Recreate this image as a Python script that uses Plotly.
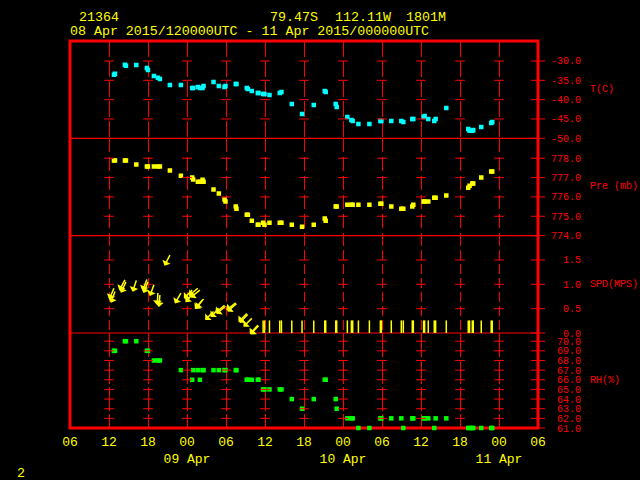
import math
import pandas as pd
import plotly.graph_objects as go
from plotly.subplots import make_subplots

# ---------------- data ----------------
BASE = pd.Timestamp("2015-04-08 06:00")
obs_hours = [6.76, 6.92, 8.45, 8.61, 10.2, 11.83, 11.99, 12.91, 13.52, 13.83,
             15.37, 17.06, 18.8, 18.95, 19.67, 19.98, 20.39, 20.55, 22.08, 22.9,
             23.77, 23.92, 25.5, 25.61, 27.2, 27.36, 27.97, 28.89, 29.0, 29.71,
             29.92, 30.69, 32.27, 32.53, 34.12, 35.7, 37.5, 39.19, 39.34, 40.88,
             41.03, 42.67, 43.29, 43.49, 44.37, 46.06, 47.75, 47.9, 49.43, 50.97,
             51.28, 52.66, 52.82, 54.4, 54.56, 55.12, 56.04, 56.25, 57.89, 61.27,
             61.47, 61.89, 62.04, 63.27, 64.8, 64.96]

temp_c = [-33.54, -33.28, -30.95, -31.21, -31.03, -31.81, -32.33, -33.88, -34.31, -34.66,
          -36.21, -36.21, -36.99, -36.99, -36.73, -36.99, -36.99, -36.47, -35.43, -36.47,
          -36.73, -36.47, -35.95, -35.95, -36.99, -37.24, -37.76, -38.28, -38.28, -38.54,
          -38.54, -38.80, -38.28, -38.02, -41.13, -43.71, -41.38, -37.76, -38.02, -41.13,
          -41.90, -44.49, -45.27, -45.52, -46.30, -46.30, -45.52, -45.52, -45.52, -45.52,
          -45.78, -45.01, -45.01, -44.49, -44.23, -45.01, -45.52, -45.01, -42.16, -47.59,
          -48.03, -48.03, -47.85, -47.08, -46.04, -45.78]

pres_mb = [777.88, 777.88, 777.88, 777.88, 777.67, 777.57, 777.57, 777.57, 777.57, 777.57,
           777.36, 777.10, 777.00, 776.90, 776.79, 776.79, 776.89, 776.79, 776.38, 776.17,
           775.86, 775.76, 775.50, 775.39, 775.08, 775.08, 774.77, 774.56, 774.56, 774.67,
           774.56, 774.67, 774.67, 774.67, 774.56, 774.46, 774.56, 774.88, 774.77, 775.50,
           775.50, 775.60, 775.60, 775.60, 775.60, 775.60, 775.65, 775.65, 775.50, 775.39,
           775.39, 775.50, 775.60, 775.76, 775.76, 775.76, 775.96, 775.96, 776.07, 776.48,
           776.58, 776.69, 776.69, 777.00, 777.31, 777.31]

rh_pct = [69, 69, 70, 70, 70, 69, 69, 68, 68, 68,
          None, 67, 66, 67, 67, 66, 67, 67, 67, 67,
          67, 67, 67, 67, 66, 66, 66, 66, 66, 65,
          65, 65, 65, 65, 64, 63, 64, 66, 66, 64,
          63, 62, 62, 62, 61, 61, 62, 62, 62, 62,
          61, 62, 62, 62, 62, 62, 61, 62, 62, 61,
          61, 61, 61, 61, 61, 61]

wind_spd = [0.92, 0.85, 1.09, 1.05, 1.08, 1.10, 1.05, 0.99, 0.82, 0.78,
            1.60, 0.82, 0.88, 0.82, 0.92, 0.88, 0.68, 0.70, 0.44, 0.50,
            0.57, 0.55, 0.62, 0.60, 0.40, 0.38, 0.30, 0.16, 0.15] + [0.0] * 37
wind_dir = [23, 20, 28, 25, 18, 21, 22, 20, 3, 5,
            27, 30, 45, 40, 50, 52, 40, 38, 45, 45,
            50, 50, 52, 50, 45, 45, 45, 42, 42] + [0] * 37

t_ticks = [-50, -45, -40, -35, -30]
p_ticks = [774, 775, 776, 777, 778]
s_ticks = [0.0, 0.5, 1.0, 1.5]
rh_ticks = [61, 62, 63, 64, 65, 66, 67, 68, 69, 70]
x_tick_hours = list(range(0, 73, 6))
x_tick_text = ["06", "12", "18", "00<br>09 Apr", "06", "12", "18", "00<br>10 Apr",
               "06", "12", "18", "00<br>11 Apr", "06"]

# ---------------- style ----------------
RED = "#ff0000"
YEL = "#ffff00"
CYN = "#00ffff"
GRN = "#00ff00"
FONT = "Liberation Mono"
W, H = 640, 480
PL, PR, PT, PB = 70, 538, 41, 428
bounds_px = [PT, 138.3, 235.6, 333.0, PB]


def fx(x):
    return (x - PL) / (PR - PL)


def fy(y):
    return (PB - y) / (PB - PT)


times = BASE + pd.to_timedelta(obs_hours, unit="h")
x_ticks = list(BASE + pd.to_timedelta(x_tick_hours, unit="h"))
x_range = [x_ticks[0], x_ticks[-1]]

fig = make_subplots(rows=4, cols=1, shared_xaxes=True, vertical_spacing=0)

# data traces
fig.add_trace(go.Scatter(x=times, y=temp_c, mode="markers",
                         marker=dict(symbol="square", size=4.5, color=CYN, line_width=0)),
              row=1, col=1)
fig.add_trace(go.Scatter(x=times, y=pres_mb, mode="markers",
                         marker=dict(symbol="square", size=4.5, color=YEL, line_width=0)),
              row=2, col=1)
fig.add_trace(go.Scatter(x=times, y=rh_pct, mode="markers", cliponaxis=False,
                         marker=dict(symbol="square", size=4.5, color=GRN, line_width=0)),
              row=4, col=1)

# calm winds
calm_t = [t for t, s in zip(times, wind_spd) if s == 0]
calm_s = [s for s in wind_spd if s == 0]
fig.add_trace(go.Scatter(x=calm_t, y=calm_s, mode="markers",
                         marker=dict(symbol="line-ns", size=18,
                                     line=dict(color=YEL, width=1.5))),
              row=3, col=1)

# grid crosses
panel_ticks = [t_ticks, p_ticks, s_ticks, rh_ticks]
for r, ticks in enumerate(panel_ticks, start=1):
    inner = ticks[1:]
    xs, ys = [], []
    for xt in x_ticks[1:-1]:
        for v in inner:
            xs.append(xt)
            ys.append(v)
    fig.add_trace(go.Scatter(x=xs, y=ys, mode="markers", hoverinfo="skip",
                             marker=dict(symbol="line-ew", size=7,
                                         line=dict(color=RED, width=1))),
                  row=r, col=1)
    fig.add_trace(go.Scatter(x=[x_ticks[-1]] * len(ticks), y=ticks, mode="markers",
                             cliponaxis=False, hoverinfo="skip",
                             marker=dict(symbol="line-ew", size=10,
                                         line=dict(color=RED, width=1))),
                  row=r, col=1)

# wind vectors (tail at obs point, unit length arrows)
L = 12.5
for t, s, d in zip(times, wind_spd, wind_dir):
    if s <= 0:
        continue
    rad = math.radians(d)
    fig.add_annotation(x=t, y=s, xref="x3", yref="y3", text="",
                       showarrow=True, arrowside="start", arrowhead=2, arrowsize=1,
                       arrowwidth=1.5, arrowcolor=YEL,
                       ax=-L * math.sin(rad), ay=L * math.cos(rad),
                       standoff=0, startstandoff=0, font=dict(size=1), borderpad=0)

# ---------------- axes ----------------
domains = [[fy(bounds_px[i + 1]), fy(bounds_px[i])] for i in range(4)]
ranges = [[-50, -24.83], [774, 779.03], [0, 2.0], [61.0, 70.85]]
dashes = ["16px,4px", "14px,5px", "10px,4px", "24px,3px"]


def lab(v):
    return f"{v:.1f}".rjust(5, "\u00a0")


for i in range(4):
    sfx = "" if i == 0 else str(i + 1)
    fig.layout["yaxis" + sfx].update(
        domain=domains[i], range=ranges[i], side="right", showgrid=False,
        zeroline=False, showline=False, ticks="",
        tickvals=panel_ticks[i], ticktext=[lab(v) for v in panel_ticks[i]],
        tickfont=dict(family=FONT, size=10, color=RED), ticklabelstandoff=12)
    fig.layout["xaxis" + sfx].update(
        range=x_range, tickvals=x_ticks, ticktext=x_tick_text, showgrid=True,
        gridcolor=RED, gridwidth=1, griddash=dashes[i], zeroline=False,
        showline=False, ticks="", showticklabels=(i == 3),
        tickfont=dict(family=FONT, size=13, color=YEL), ticklabelstandoff=4)

# frame and separators
fig.add_shape(type="rect", xref="paper", yref="paper", x0=0, x1=1, y0=0, y1=1,
              line=dict(color=RED, width=3), layer="below")
for b in bounds_px[1:-1]:
    fig.add_shape(type="line", xref="paper", yref="paper", x0=0, x1=1,
                  y0=fy(b), y1=fy(b), line=dict(color=RED, width=1.2), layer="below")

# axis titles
for name, i in [("T(C)", 0), ("Pre (mb)", 1), ("SPD(MPS)", 2), ("RH(%)", 3)]:
    fig.add_annotation(x=fx(588), y=sum(domains[i]) / 2, xref="paper", yref="paper",
                       text=name, showarrow=False, xanchor="left", yanchor="middle",
                       font=dict(family=FONT, size=10, color=RED))

# header texts
hdr = [("21364", 77, 18), ("79.47S", 268, 18), ("112.11W", 333, 18), ("1801M", 404, 18),
       ("08 Apr 2015/120000UTC - 11 Apr 2015/000000UTC", 68, 31.7), ("2", 15, 473)]
for txt, x, y in hdr:
    fig.add_annotation(x=fx(x), y=fy(y), xref="paper", yref="paper", text=txt,
                       showarrow=False, xanchor="left", yanchor="middle",
                       font=dict(family=FONT, size=13.3, color=YEL))

fig.update_layout(width=W, height=H, paper_bgcolor="black", plot_bgcolor="rgba(0,0,0,0)",
                  showlegend=False, hovermode=False,
                  margin=dict(l=PL, r=W - PR, t=PT, b=H - PB, pad=0))

fig.write_html("out.html", config={"displayModeBar": False, "staticPlot": True},
               post_script="document.body.style.margin='0';"
                           "document.body.style.background='black';"
                           "document.body.style.overflow='hidden';")
